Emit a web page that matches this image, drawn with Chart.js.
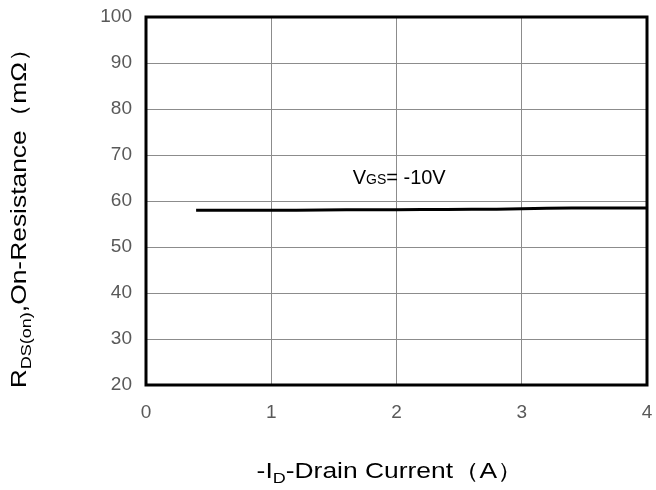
<!DOCTYPE html>
<html><head><meta charset="utf-8">
<script src="https://cdn.jsdelivr.net/npm/chart.js@4/dist/chart.umd.min.js"></script>
<style>html,body{margin:0;padding:0;background:#fff}#wrap{width:656px;height:490px}</style>
</head><body><div id="wrap"><canvas id="c"></canvas></div>
<script>
const currentA = [0.4,0.6,0.8,1.0,1.2,1.4,1.6,1.8,2.0,2.2,2.4,2.6,2.8,3.0,3.2,3.4,3.6,3.8,4.0];
const rdsOn = [58.0,58.0,58.0,58.0,58.0,58.05,58.1,58.1,58.1,58.15,58.15,58.2,58.2,58.3,58.4,58.5,58.5,58.5,58.5];
const xTicks = [0,1,2,3,4];
const yTicks = [20,30,40,50,60,70,80,90,100];
const annotation = {x:1.65, y:63.8, main:'V', sub:'GS', rest:'= -10V'};
const FONT = '"Liberation Sans", Arial, sans-serif';

const decor = {
  id:'decor',
  afterDatasetsDraw(chart){
    const {ctx, chartArea:a, scales:{x,y}} = chart;
    ctx.save();
    ctx.strokeStyle='#000'; ctx.lineWidth=3;
    ctx.strokeRect(a.left, a.top, a.right-a.left, a.bottom-a.top);
    ctx.fillStyle='#000'; ctx.textBaseline='alphabetic'; ctx.textAlign='left';
    let px = x.getPixelForValue(annotation.x), py = y.getPixelForValue(annotation.y);
    ctx.font='20px '+FONT; ctx.fillText(annotation.main, px, py); px += ctx.measureText(annotation.main).width;
    ctx.font='14px '+FONT; ctx.fillText(annotation.sub, px, py); px += ctx.measureText(annotation.sub).width;
    ctx.font='20px '+FONT; ctx.fillText(annotation.rest, px, py);
    ctx.restore();
  },
  afterDraw(chart){
    const {ctx} = chart;
    ctx.save(); ctx.fillStyle='#000'; ctx.textBaseline='alphabetic'; ctx.textAlign='left';
    const big='22px '+FONT, small='15px '+FONT, SX=1.2;
    function runW(parts){let w=0;for(const p of parts){ctx.font=p.s?small:big;w+=ctx.measureText(p.t).width;}return w*SX;}
    function drawRun(parts,x0,y0){
      ctx.save(); ctx.translate(x0,y0); ctx.scale(SX,1);
      let x=0;for(const p of parts){ctx.font=p.s?small:big;ctx.fillText(p.t,x,p.s?5:0);x+=ctx.measureText(p.t).width;}
      ctx.restore();
    }
    const xt=[{t:'-I'},{t:'D',s:1},{t:'-Drain Current（A）'}];
    const xw=runW(xt); drawRun(xt, 390 - xw/2, 478);
    const yt=[{t:'R'},{t:'DS(on)',s:1},{t:',On-Resistance（mΩ）'}];
    const yw=runW(yt);
    ctx.translate(26, 212); ctx.rotate(-Math.PI/2);
    drawRun(yt, -yw/2, 0);
    ctx.restore();
  }
};

new Chart(document.getElementById('c'), {
  type:'line',
  data:{datasets:[{data:currentA.map((v,i)=>({x:v,y:rdsOn[i]})), borderColor:'#000', borderWidth:3, pointRadius:0, tension:0, fill:false}]},
  options:{
    responsive:true, maintainAspectRatio:false, animation:false,
    layout:{padding:{top:17,right:9,left:0,bottom:0}},
    plugins:{legend:{display:false}, tooltip:{enabled:false}},
    scales:{
      x:{type:'linear', min:0, max:4,
        afterFit(s){s.height=105; s.paddingLeft=0; s.paddingRight=0;},
        afterBuildTicks(s){s.ticks=xTicks.map(v=>({value:v}));},
        grid:{color:'#8c8c8c', lineWidth:1, drawTicks:false}, border:{display:false},
        ticks:{color:'#595959', font:{family:FONT,size:19}, padding:16}},
      y:{type:'linear', min:20, max:100,
        afterFit(s){s.width=146; s.paddingTop=0; s.paddingBottom=0;},
        afterBuildTicks(s){s.ticks=yTicks.map(v=>({value:v}));},
        grid:{color:'#8c8c8c', lineWidth:1, drawTicks:false}, border:{display:false},
        ticks:{color:'#595959', font:{family:FONT,size:19}, padding:14}}
    }
  },
  plugins:[decor]
});
</script></body></html>
